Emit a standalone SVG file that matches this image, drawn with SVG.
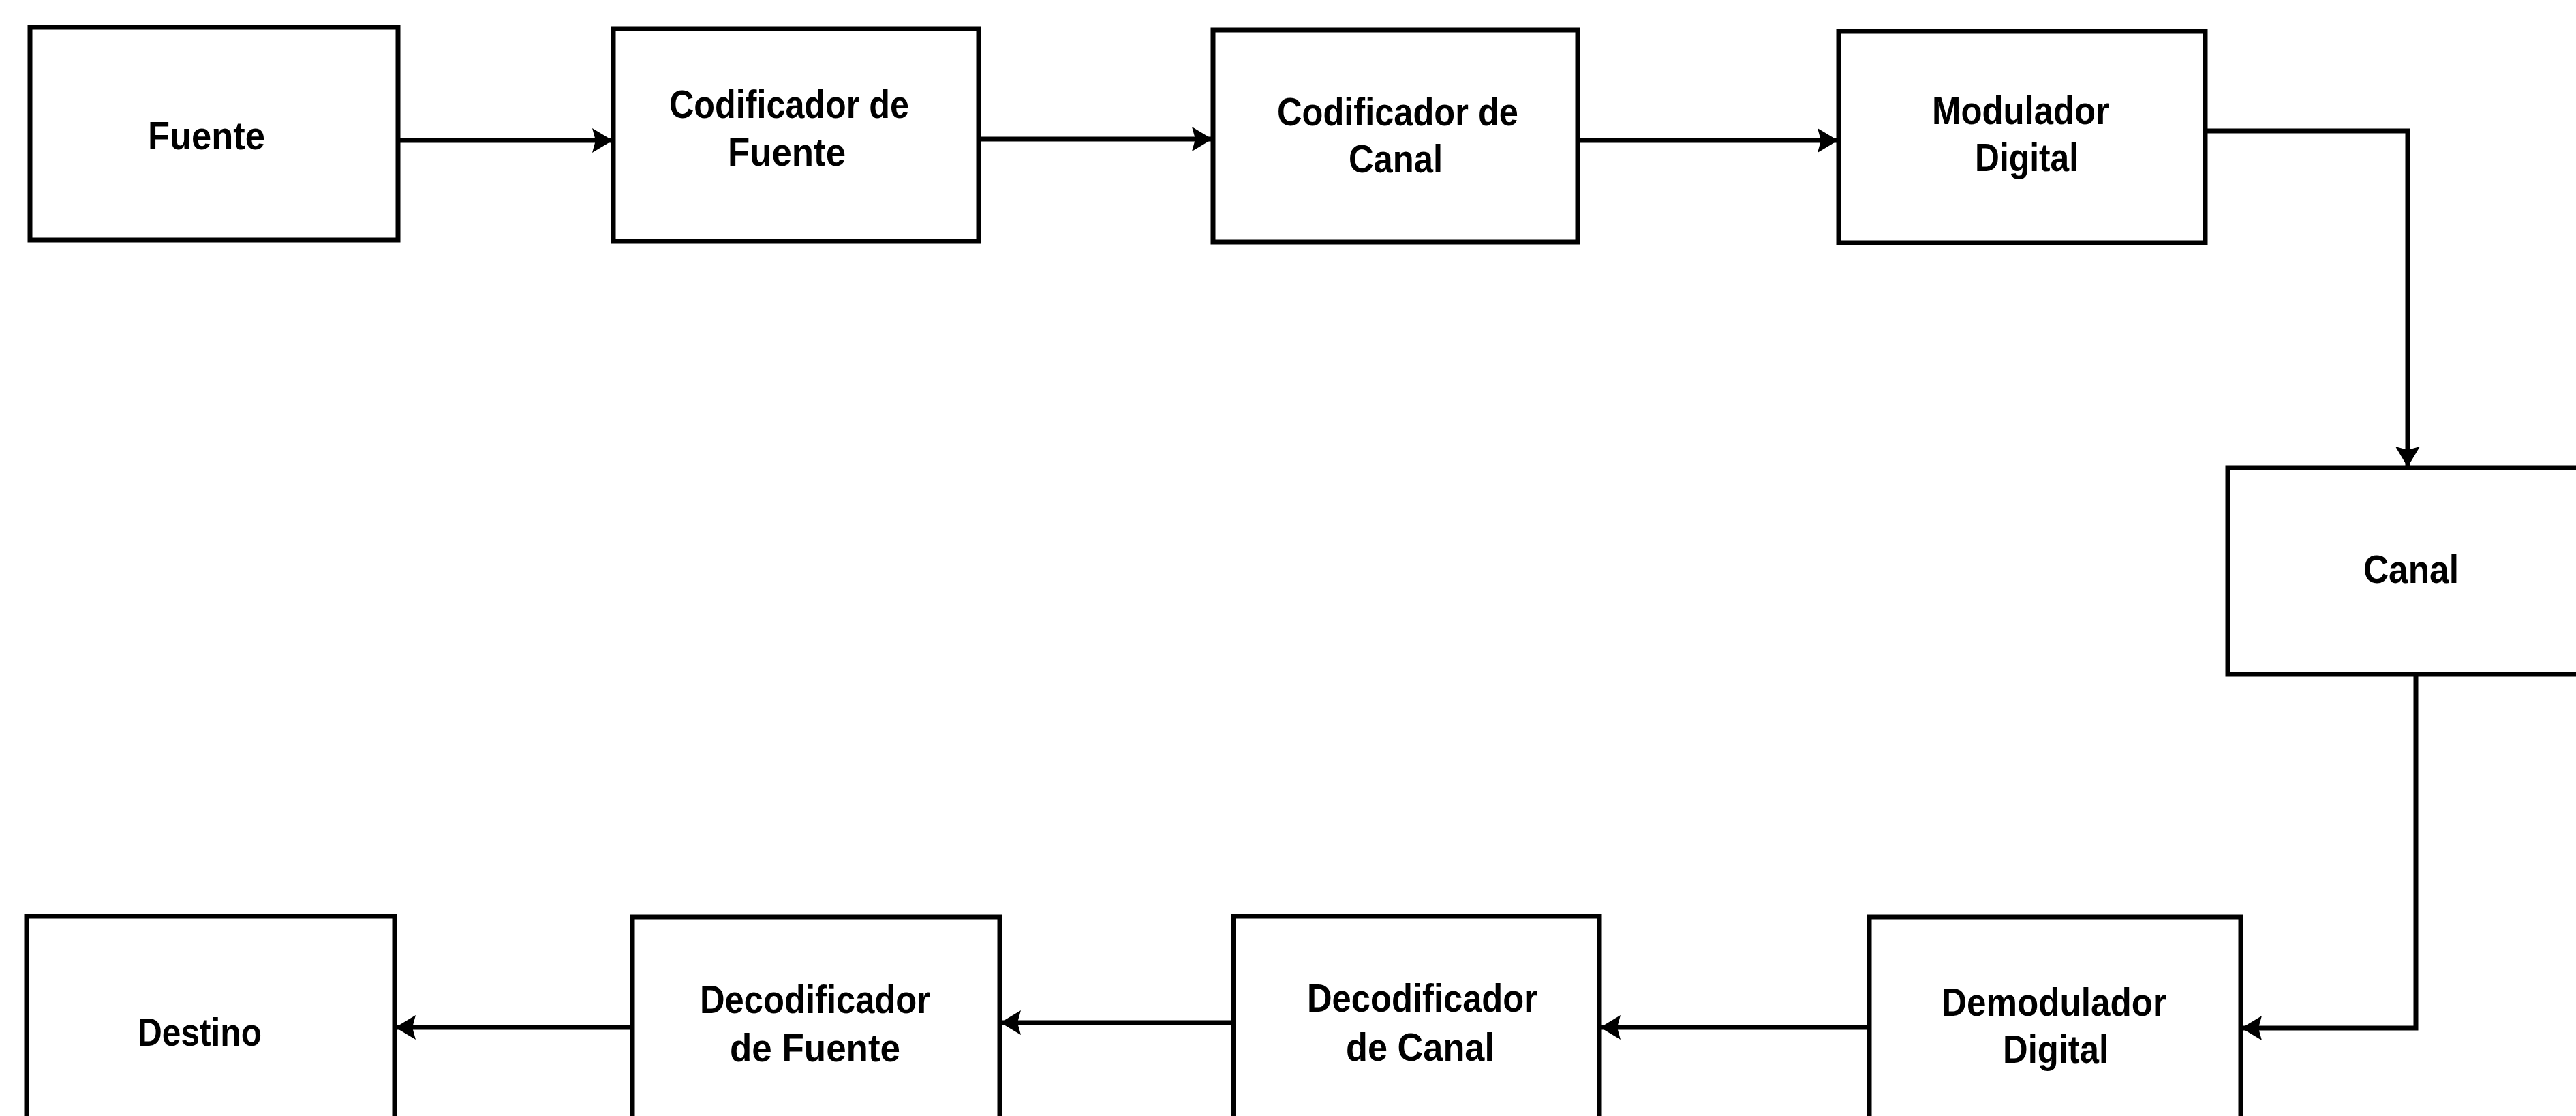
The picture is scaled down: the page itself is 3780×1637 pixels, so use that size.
<svg xmlns="http://www.w3.org/2000/svg" width="3780" height="1637" viewBox="0 0 3780 1637">
  <style>
    .box { fill: #ffffff; stroke: #000000; stroke-width: 7; }
    .lbl { font-family: "Liberation Sans", Arial, Helvetica, sans-serif; font-weight: bold; font-size: 58px; fill: #000000; }
    .wire { fill: none; stroke: #000000; stroke-width: 7; stroke-linejoin: miter; }
  </style>
  <defs>
    <marker id="head" markerUnits="userSpaceOnUse" markerWidth="34" markerHeight="40" refX="30" refY="18" orient="auto">
      <path d="M0,0 L30,18 L0,36 L5,18 Z" fill="#000000"/>
    </marker>
  </defs>
  <rect x="0" y="0" width="3780" height="1637" fill="#ffffff"/>

  <!-- transmitter chain -->
  <g id="fuente">
    <rect class="box" x="44" y="40" width="540" height="312"/>
    <text class="lbl" x="217" y="219" textLength="172" lengthAdjust="spacingAndGlyphs">Fuente</text>
  </g>
  <g id="codificador-fuente">
    <rect class="box" x="900" y="42" width="536" height="312"/>
    <text class="lbl" x="982" y="173" textLength="352" lengthAdjust="spacingAndGlyphs">Codificador de</text>
    <text class="lbl" x="1068" y="243" textLength="173" lengthAdjust="spacingAndGlyphs">Fuente</text>
  </g>
  <g id="codificador-canal">
    <rect class="box" x="1780" y="44" width="535" height="311"/>
    <text class="lbl" x="1874" y="184" textLength="354" lengthAdjust="spacingAndGlyphs">Codificador de</text>
    <text class="lbl" x="1979" y="253" textLength="138" lengthAdjust="spacingAndGlyphs">Canal</text>
  </g>
  <g id="modulador">
    <rect class="box" x="2698" y="46" width="538" height="310"/>
    <text class="lbl" x="2835" y="182" textLength="260" lengthAdjust="spacingAndGlyphs">Modulador</text>
    <text class="lbl" x="2898" y="251" textLength="152" lengthAdjust="spacingAndGlyphs">Digital</text>
  </g>
  <g id="canal">
    <rect class="box" x="3269" y="686" width="560" height="303"/>
    <text class="lbl" x="3468" y="855" textLength="140" lengthAdjust="spacingAndGlyphs">Canal</text>
  </g>

  <!-- receiver chain -->
  <g id="demodulador">
    <rect class="box" x="2743" y="1345" width="545" height="330"/>
    <text class="lbl" x="2849" y="1490" textLength="330" lengthAdjust="spacingAndGlyphs">Demodulador</text>
    <text class="lbl" x="2939" y="1559" textLength="155" lengthAdjust="spacingAndGlyphs">Digital</text>
  </g>
  <g id="decodificador-canal">
    <rect class="box" x="1810" y="1344" width="537" height="330"/>
    <text class="lbl" x="1918" y="1484" textLength="338" lengthAdjust="spacingAndGlyphs">Decodificador</text>
    <text class="lbl" x="1975" y="1556" textLength="218" lengthAdjust="spacingAndGlyphs">de Canal</text>
  </g>
  <g id="decodificador-fuente">
    <rect class="box" x="928" y="1345" width="539" height="330"/>
    <text class="lbl" x="1027" y="1486" textLength="338" lengthAdjust="spacingAndGlyphs">Decodificador</text>
    <text class="lbl" x="1071" y="1557" textLength="250" lengthAdjust="spacingAndGlyphs">de Fuente</text>
  </g>
  <g id="destino">
    <rect class="box" x="39" y="1344" width="540" height="330"/>
    <text class="lbl" x="202" y="1534" textLength="182" lengthAdjust="spacingAndGlyphs">Destino</text>
  </g>

  <!-- connectors -->
  <g id="connectors">
    <path class="wire" d="M584,206 H899" marker-end="url(#head)"/>
    <path class="wire" d="M1436,204 H1779" marker-end="url(#head)"/>
    <path class="wire" d="M2315,206 H2697" marker-end="url(#head)"/>
    <path class="wire" d="M3236,192 H3533 V685" marker-end="url(#head)"/>
    <path class="wire" d="M3545,989 V1508 H3289" marker-end="url(#head)"/>
    <path class="wire" d="M2743,1507 H2348" marker-end="url(#head)"/>
    <path class="wire" d="M1810,1500 H1468" marker-end="url(#head)"/>
    <path class="wire" d="M928,1507 H580" marker-end="url(#head)"/>
  </g>
</svg>
